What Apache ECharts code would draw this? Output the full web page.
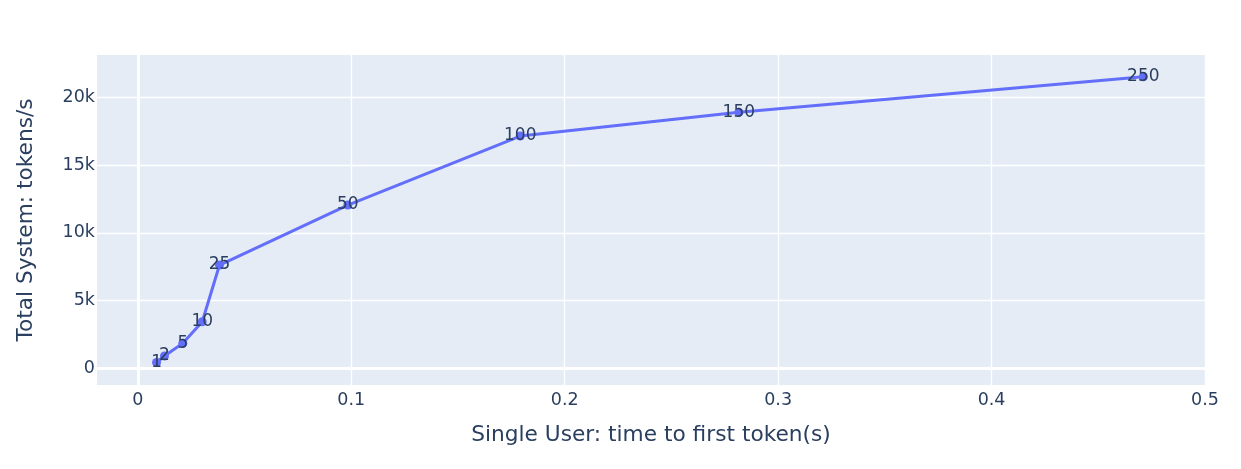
<!DOCTYPE html>
<html>
<head>
<meta charset="utf-8">
<script src="https://cdn.jsdelivr.net/npm/echarts@6/dist/echarts.min.js"></script>
<style>
html,body{margin:0;padding:0;background:#fff;}
#chart{width:1241px;height:469px;}
</style>
</head>
<body>
<div id="chart"></div>
<script>
const concurrency = ['1', '2', '5', '10', '25', '50', '100', '150', '250'];
const ttft = [0.0088, 0.0125, 0.0211, 0.0302, 0.0383, 0.0984, 0.1792, 0.2816, 0.4711];
const throughput = [430, 910, 1845, 3440, 7620, 12050, 17140, 18890, 21520];

const xTicks = [0, 0.1, 0.2, 0.3, 0.4, 0.5];
const yTicks = [0, 5000, 10000, 15000, 20000];

const xTitle = 'Single User: time to first token(s)';
const yTitle = 'Total System: tokens/s';

const textColor = '#2a3f5f';
const font = 'DejaVu Sans';

const chart = echarts.init(document.getElementById('chart'));
chart.setOption({
  animation: false,
  textStyle: { fontFamily: font },
  grid: {
    left: 97, right: 36, top: 55, bottom: 84,
    containLabel: false, outerBoundsMode: 'none',
    show: true, backgroundColor: '#E5ECF6', borderWidth: 0
  },
  xAxis: {
    type: 'value',
    min: -0.0191, max: 0.5,
    name: xTitle, nameLocation: 'middle', nameGap: 39,
    nameTextStyle: { color: textColor, fontSize: 21.7, fontFamily: font },
    axisLine: { show: false },
    axisTick: { show: false, customValues: xTicks },
    axisLabel: { color: textColor, fontSize: 17.5, fontFamily: font, margin: 6,
      customValues: xTicks,
      formatter: v => (Math.abs(v) < 1e-9 ? '0' : String(Math.round(v * 10) / 10)) },
    splitLine: { show: true, lineStyle: { color: '#ffffff', width: 1.4 } }
  },
  yAxis: {
    type: 'value',
    min: -1232, max: 23122,
    name: yTitle, nameLocation: 'middle', nameGap: 60,
    nameTextStyle: { color: textColor, fontSize: 21.7, fontFamily: font },
    axisLine: { show: false },
    axisTick: { show: false, customValues: yTicks },
    axisLabel: { color: textColor, fontSize: 17.5, fontFamily: font, margin: 2,
      customValues: yTicks,
      formatter: v => (v === 0 ? '0' : (v / 1000) + 'k') },
    splitLine: { show: true, lineStyle: { color: '#ffffff', width: 1.4 } }
  },
  series: [
    {
      type: 'line',
      data: [],
      z: 1,
      silent: true,
      markLine: {
        silent: true, symbol: 'none', label: { show: false },
        lineStyle: { color: '#ffffff', width: 2.8, type: 'solid' },
        data: [{ xAxis: 0 }, { yAxis: 0 }]
      }
    },
    {
      type: 'line',
      z: 3,
      data: ttft.map((x, i) => [x, throughput[i]]),
      lineStyle: { color: '#636EFA', width: 3 },
      itemStyle: { color: '#636EFA' },
      symbol: 'circle', symbolSize: 9,
      label: {
        show: true, position: 'inside', color: textColor, fontSize: 17, fontFamily: font,
        formatter: p => concurrency[p.dataIndex]
      }
    }
  ]
});
</script>
</body>
</html>
